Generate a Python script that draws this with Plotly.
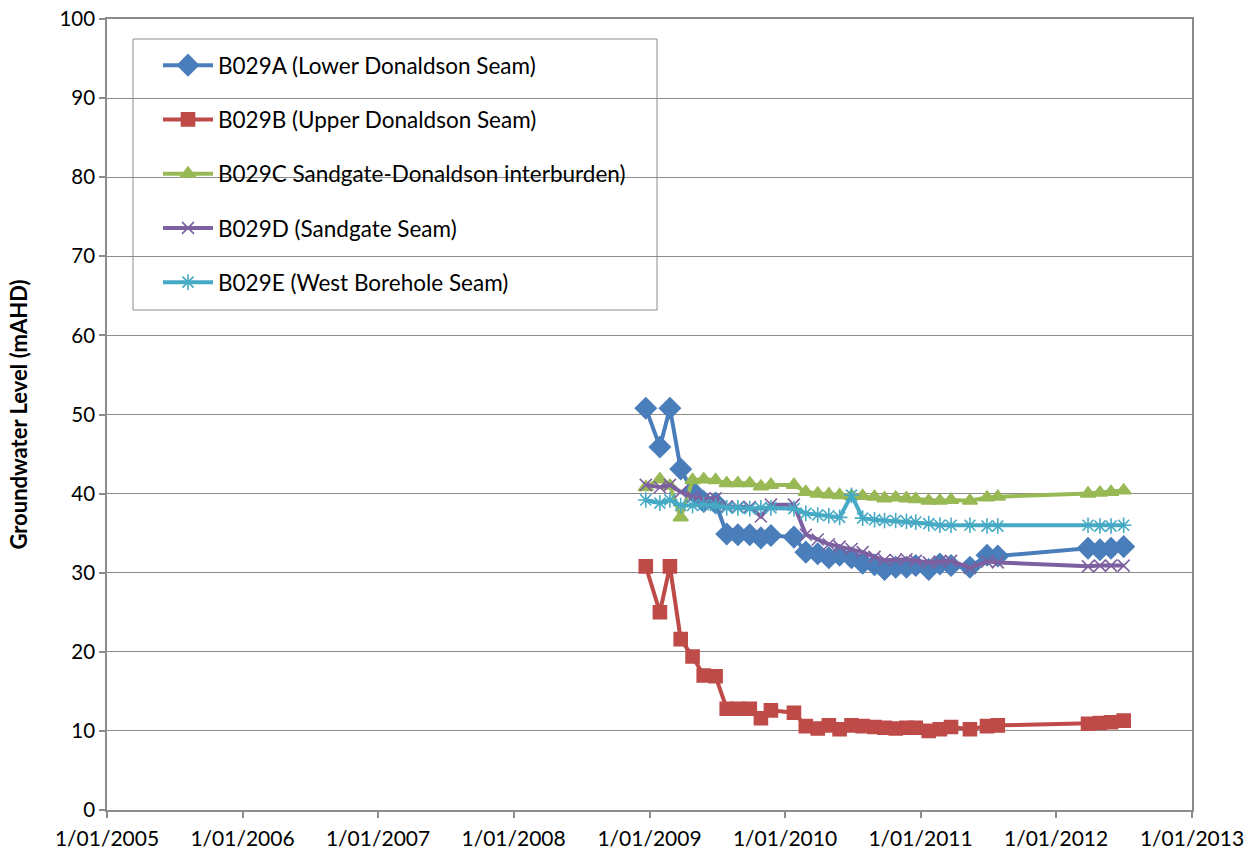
import plotly.graph_objects as go

dates = ["2008-12-22", "2009-01-29", "2009-02-25", "2009-03-26", "2009-04-27", "2009-05-27",
         "2009-06-28", "2009-07-28", "2009-08-27", "2009-09-28", "2009-10-28", "2009-11-24",
         "2010-01-25", "2010-02-26", "2010-03-30", "2010-04-29", "2010-05-28", "2010-06-29",
         "2010-07-29", "2010-08-30", "2010-09-26", "2010-10-26", "2010-11-24", "2010-12-19",
         "2011-01-23", "2011-02-22", "2011-03-24", "2011-05-14", "2011-06-29", "2011-07-28",
         "2012-03-27", "2012-04-28", "2012-05-28", "2012-07-01"]

b029a = [50.8, 45.9, 50.8, 43.1, 40.3, 39.0, 38.8, 34.9, 34.8, 34.8, 34.4, 34.7,
         34.5, 32.6, 32.4, 31.9, 32.2, 31.9, 31.2, 31.0, 30.4, 30.7, 30.7, 30.9,
         30.4, 31.1, 30.9, 30.7, 32.2, 32.1, 33.1, 32.9, 33.1, 33.3]
b029b = [30.8, 25.0, 30.8, 21.6, 19.4, 17.0, 16.9, 12.8, 12.8, 12.8, 11.6, 12.6,
         12.3, 10.6, 10.3, 10.7, 10.2, 10.7, 10.6, 10.5, 10.4, 10.3, 10.4, 10.4,
         10.0, 10.2, 10.5, 10.2, 10.6, 10.7, 10.9, 11.0, 11.1, 11.3]
b029c = [40.8, 41.8, 41.0, 37.0, 41.7, 41.8, 41.7, 41.3, 41.3, 41.3, 40.9, 41.1,
         41.1, 40.2, 40.0, 39.9, 39.8, 39.7, 39.7, 39.6, 39.4, 39.5, 39.4, 39.3,
         39.1, 39.1, 39.2, 39.1, 39.5, 39.6, 40.0, 40.1, 40.2, 40.4]
b029d = [41.1, 40.8, 41.1, 40.2, 39.6, 39.3, 39.4, 38.4, 38.3, 38.3, 37.1, 38.6,
         38.6, 34.8, 34.2, 33.6, 33.3, 33.0, 32.6, 32.0, 31.6, 31.6, 31.7, 31.5,
         31.3, 31.4, 31.5, 30.6, 31.4, 31.3, 30.8, 30.9, 30.9, 30.9]
b029e = [39.2, 38.8, 39.2, 38.5, 38.5, 38.6, 38.5, 38.2, 38.2, 38.1, 38.2, 38.2,
         38.1, 37.5, 37.3, 37.2, 37.0, 39.8, 36.9, 36.7, 36.6, 36.6, 36.5, 36.4,
         36.2, 36.0, 36.0, 36.0, 35.9, 35.9, 36.0, 35.9, 35.9, 36.0]

names = ["B029A (Lower Donaldson Seam)", "B029B (Upper Donaldson Seam)",
         "B029C Sandgate-Donaldson interburden)", "B029D (Sandgate Seam)",
         "B029E (West Borehole Seam)"]
series = [b029a, b029b, b029c, b029d, b029e]
colors = ["#4A7EBB", "#BE4B48", "#98B954", "#7D60A0", "#46AAC5"]
symbols = ["diamond", "square", "triangle-up", "x-thin-open", "asterisk-open"]
msizes = [16, 13, 13, 12, 13]

tick_vals = ["2005-01-01", "2006-01-01", "2007-01-01", "2008-01-01", "2009-01-01",
             "2010-01-01", "2011-01-01", "2012-01-01", "2013-01-01"]
tick_text = ["1/01/2005", "1/01/2006", "1/01/2007", "1/01/2008", "1/01/2009",
             "1/01/2010", "1/01/2011", "1/01/2012", "1/01/2013"]

FONT = "Lato, 'Open Sans', sans-serif"

fig = go.Figure()
for i, (nm, ys, c, s, ms) in enumerate(zip(names, series, colors, symbols, msizes)):
    fig.add_trace(go.Scatter(
        x=dates, y=ys, name=nm, mode="lines+markers", legendgroup=str(i),
        line=dict(color=c, width=4),
        marker=dict(symbol=s, size=ms, color=c, line=dict(color=c, width=1.6)),
    ))

# body margin is removed by post_script, so the figure fills the window exactly
W, H = 1257, 857
# plot area in window pixels: x 107..1192, y 19..810
L, T = 107, 19
R = W - 1192
B = H - 810
pw, ph = W - L - R, H - T - B

def px2x(p):
    return (p - L) / pw

def px2y(p):
    return (H - B - p) / ph

fig.add_shape(type="rect", xref="paper", yref="paper",
              x0=px2x(133), x1=px2x(657), y0=px2y(310), y1=px2y(39),
              line=dict(color="#8C8C8C", width=1), fillcolor="white", layer="below")

fig.update_layout(
    width=W, height=H,
    margin=dict(l=L, r=R, t=T, b=B, pad=0, autoexpand=False),
    plot_bgcolor="white", paper_bgcolor="white",
    font=dict(family=FONT, size=20.5, color="#000000"),
    showlegend=True,
    legend=dict(x=px2x(158), y=px2y(44), xanchor="left", yanchor="top",
                bgcolor="rgba(0,0,0,0)", borderwidth=0,
                font=dict(family=FONT, size=22.5, color="#000000"),
                tracegroupgap=22, itemwidth=50),
    xaxis=dict(
        type="date", range=["2005-01-01", "2013-01-01"], automargin=False,
        tickmode="array", tickvals=tick_vals, ticktext=tick_text,
        showgrid=False, zeroline=False,
        showline=True, linecolor="#8C8C8C", linewidth=1.5, mirror=True,
        ticks="outside", ticklen=6, tickcolor="#8C8C8C", tickwidth=1.5,
        ticklabelstandoff=3, ticklabeloverflow="allow",
        tickfont=dict(family=FONT, size=21, color="#000000"),
    ),
    yaxis=dict(
        range=[0, 100], dtick=10, tick0=0, automargin=False,
        showgrid=True, gridcolor="#8C8C8C", gridwidth=1,
        zeroline=False,
        showline=True, linecolor="#8C8C8C", linewidth=1.5, mirror=True,
        ticks="outside", ticklen=6, tickcolor="#8C8C8C", tickwidth=1.5,
        ticklabeloverflow="allow",
        tickfont=dict(family=FONT, size=20.5, color="#000000"),
        title=dict(text="<b>Groundwater Level (mAHD)</b>",
                   font=dict(family=FONT, size=22, color="#000000"), standoff=26),
    ),
)

fig.write_html(
    "out.html",
    config={"displayModeBar": False},
    post_script="document.body.style.margin='0';document.body.style.overflow='hidden';",
)
